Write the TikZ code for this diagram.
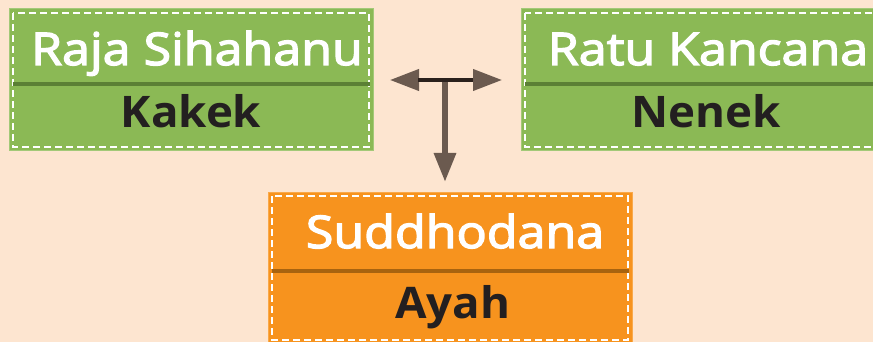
\documentclass[tikz,border=0pt]{standalone}
\usepackage{fontspec}
\setmainfont{Open Sans}
\newfontfamily\titlefont[FakeStretch=1.115, FakeBold=3]{Open Sans}
\newfontfamily\rolefont[FakeStretch=1.05]{Open Sans Bold}
\usetikzlibrary{arrows.meta,calc}
\definecolor{bg}{HTML}{FDE5D0}
\definecolor{grn}{HTML}{8BB955}
\definecolor{grnedge}{HTML}{A3C978}
\definecolor{grndiv}{HTML}{5B8035}
\definecolor{org}{HTML}{F7931E}
\definecolor{orgedge}{HTML}{F9A94A}
\definecolor{orgdiv}{HTML}{A8630F}
\definecolor{txtdark}{HTML}{231F20}
\definecolor{arrc}{HTML}{6B5A4F}
\definecolor{bardark}{HTML}{2B211D}
\tikzset{
  box/.style={draw=#1edge, fill=#1, line width=1pt, inner sep=0pt, minimum width=364pt, minimum height=142pt},
  dashbox/.style={draw=white, line width=1.6pt, dash pattern=on 7pt off 4pt},
  title/.style={text=white, anchor=base, inner sep=0pt, font=\titlefont\fontsize{45}{45}\selectfont},
  role/.style={text=txtdark, anchor=base, inner sep=0pt, font=\rolefont\fontsize{43.5}{44}\selectfont},
  bigtip/.style={-{Triangle[length=29pt,width=21pt,color=arrc]}},
}
\begin{document}
\begin{tikzpicture}[x=1pt,y=-1pt]
\fill[bg] (0,0) rectangle (873,342);
\useasboundingbox (0,0) rectangle (873,342);
\begin{scope}
\clip (0,0) rectangle (873,342);
% boxes
\node[box=grn] (a) at (191,80) {};
\node[box=grn, minimum width=372pt] (b) at (707,80) {};
\node[box=org, minimum height=152pt] (c) at (450,268) {};
\draw[dashbox] ($(a.north west)+(4.5,4.5)$) rectangle ($(a.south east)+(-4.5,-4.5)$);
\draw[dashbox] ($(b.north west)+(4.5,4.5)$) rectangle ($(b.south east)+(-4.5,-4.5)$);
\draw[dashbox] ($(c.north west)+(4.5,4.5)$) rectangle ($(c.south east)+(-4.5,-4.5)$);
\draw[grndiv, line width=4pt] ($(a.north west)+(4,76)$) -- ($(a.north east)+(-4,76)$);
\draw[grndiv, line width=4pt] ($(b.north west)+(4,76)$) -- ($(b.north east)+(-4,76)$);
\draw[orgdiv, line width=4pt] ($(c.north west)+(4,79)$) -- ($(c.north east)+(-4,79)$);
% texts
\node[title] (a1) at (197,65) {Raja Sihahanu};
\node[role] (a2) at (191,128) {Kakek};
\node[title] (b1) at (708,65) {Ratu Kancana};
\node[role] (b2) at (706,128) {Nenek};
\node[title] (c1) at (455,248) {Suddhodana};
\node[role] (c2) at (453,318) {Ayah};
\end{scope}
% connectors
\coordinate (j) at (445,80);
\coordinate (tl) at (390,80);
\coordinate (tr) at (502,80);
\coordinate (td) at (445,182);
\draw[arrc, line width=6pt, bigtip] (j) -- (td);
\draw[arrc, line width=4pt, bigtip] (j) -- (tl);
\draw[arrc, line width=4pt, bigtip] (j) -- (tr);
\draw[bardark, line width=4pt] (418,80) -- (473,80);
\end{tikzpicture}
\end{document}
